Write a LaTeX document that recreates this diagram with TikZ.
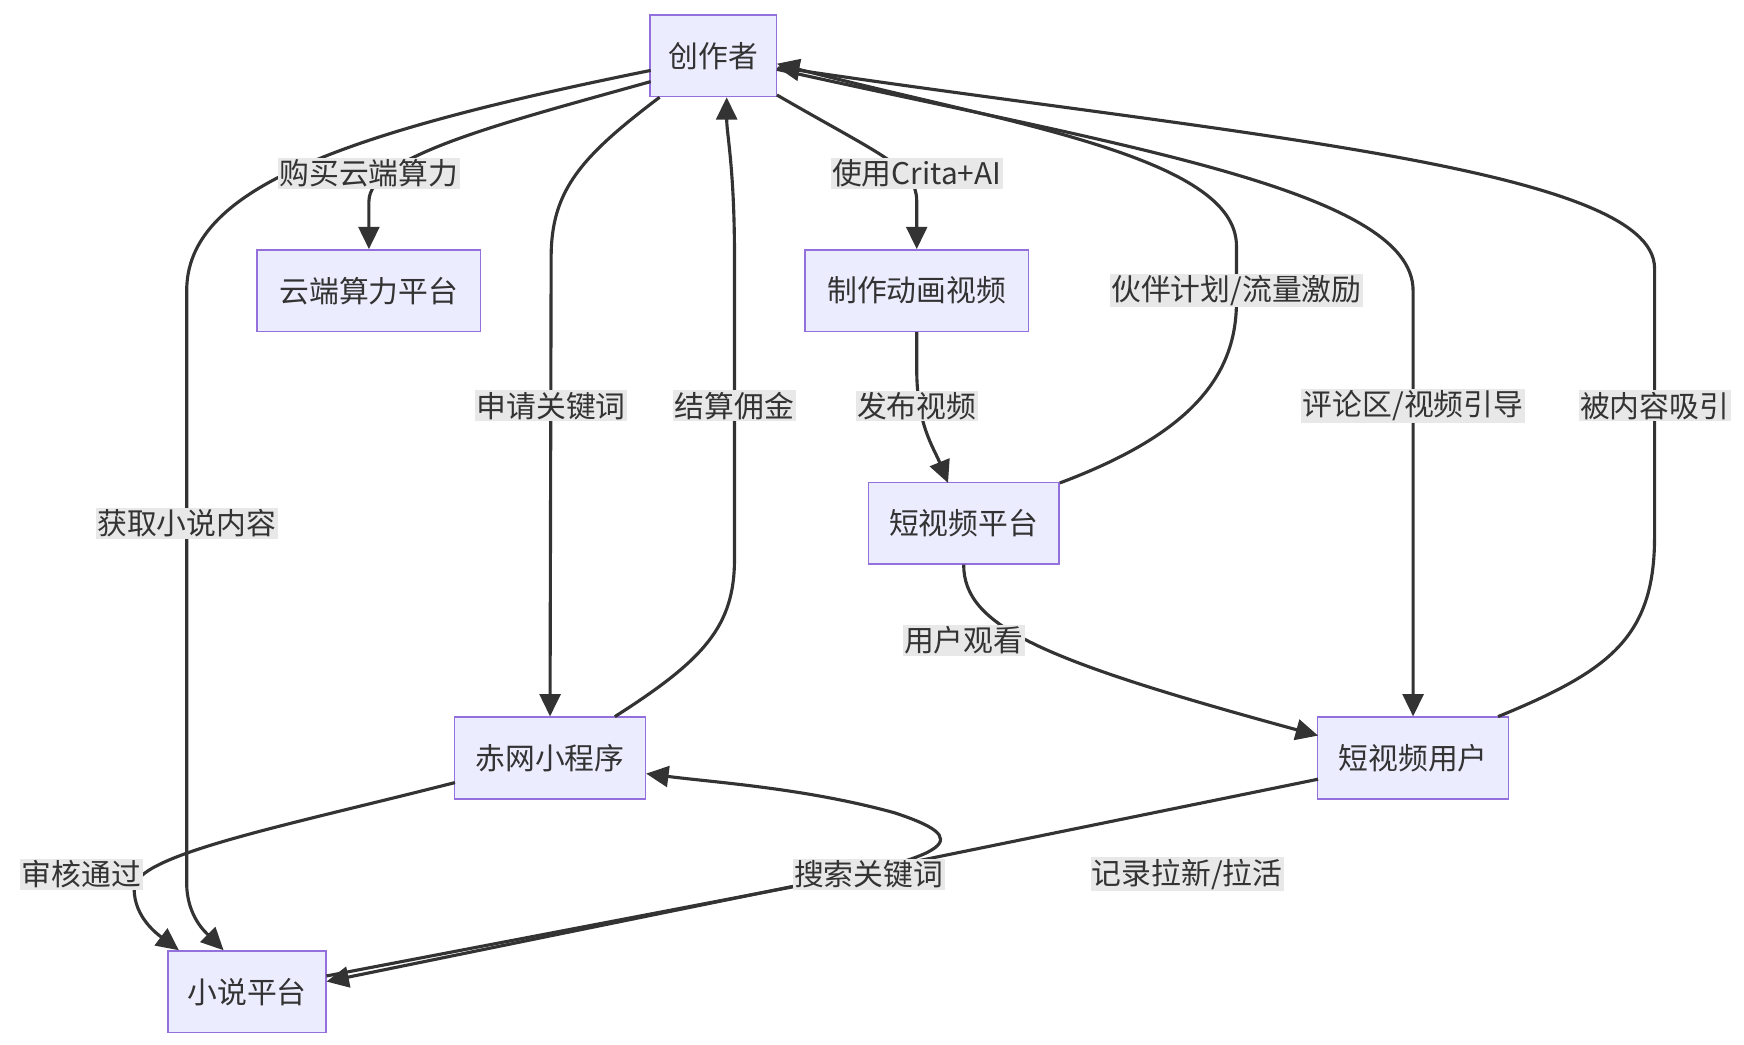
\documentclass[tikz,border=0pt]{standalone}
\usepackage{fontspec}
\setmainfont{Noto Sans CJK SC}
\usetikzlibrary{arrows.meta}
\definecolor{nfill}{HTML}{ECECFF}
\definecolor{nbord}{HTML}{9370DB}
\definecolor{ink}{HTML}{333333}
\definecolor{lbg}{HTML}{E8E8E8}
\begin{document}
\begin{tikzpicture}[x=0.75pt,y=-0.75pt,
  box/.style={draw=nbord,fill=nfill,line width=1pt,minimum height=54.75pt,inner sep=0pt,text=ink,font=\fontsize{20}{20}\selectfont},
  lab/.style={fill=lbg,inner sep=1pt,text=ink,font=\fontsize{20}{20}\selectfont},
  e/.style={draw=ink,line width=2.1pt,-{Triangle[length=15pt,width=14pt]}}]
\useasboundingbox (0,0) rectangle (1560,934);
\node[box,minimum width=84.75pt] (c) at (638,50) {创作者};
\node[box,minimum width=150pt] (cloud) at (330,260) {云端算力平台};
\node[box,minimum width=150pt] (make) at (820,260) {制作动画视频};
\node[box,minimum width=128pt] (svp) at (862,468) {短视频平台};
\node[box,minimum width=128pt] (mini) at (492,678) {赤网小程序};
\node[box,minimum width=128pt] (svu) at (1264,678) {短视频用户};
\node[box,minimum width=106pt] (novel) at (221,887) {小说平台};
% edges
\draw[e] (582,73) .. controls (450,110) and (330,140) .. (330,180) -- (cloud.north);
\draw[e] (582,63) .. controls (300,120) and (167,170) .. (167,260) -- (167,790) .. controls (167,820) and (185,835) .. (200,850);
\draw[e] (590,87) .. controls (520,140) and (493,170) .. (493,230) -- (mini.north);
\draw[e] (550,641) .. controls (630,590) and (657,560) .. (657,500) -- (657,230) .. controls (657,150) and (650,120) .. (650,87);
\draw[e] (695,85) .. controls (790,140) and (820,150) .. (820,180) -- (make.north);
\draw[e] (make.south) -- (820,330) .. controls (820,380) and (835,400) .. (848,432);
\draw[e] (948,432) .. controls (1060,390) and (1106,340) .. (1106,270) -- (1106,220) .. controls (1106,140) and (900,110) .. (695,57);
\draw[e] (695,62) .. controls (1000,130) and (1264,170) .. (1264,260) -- (mini.north -| svu.north);
\draw[e] (1340,641) .. controls (1440,600) and (1480,570) .. (1480,480) -- (1480,240) .. controls (1480,150) and (1100,120) .. (695,60);
\draw[e] (862,505) .. controls (862,560) and (930,590) .. (1179,658);
\draw[e] (407,700) .. controls (250,740) and (120,765) .. (120,795) .. controls (120,820) and (140,835) .. (160,850);
\draw[e] (292,873) -- (700,795) .. controls (860,765) and (870,750) .. (800,727) .. controls (720,705) and (640,700) .. (578,692);
\draw[e] (1179,697) -- (292,878);
% labels
\node[lab] (l1) at (330,155) {购买云端算力};
\node[lab] (l2) at (167,468) {获取小说内容};
\node[lab] (l3) at (493,363) {申请关键词};
\node[lab] (l4) at (657,363) {结算佣金};
\node[lab] (l5) at (820,155) {使用Crita+AI};
\node[lab] (l6) at (820,363) {发布视频};
\node[lab] (l7) at (1106,260) {伙伴计划/流量激励};
\node[lab] (l8) at (1264,363) {评论区/视频引导};
\node[lab] (l9) at (1480,363) {被内容吸引};
\node[lab] (l10) at (862,573) {用户观看};
\node[lab] (l11) at (73,782) {审核通过};
\node[lab] (l12) at (777,782) {搜索关键词};
\node[lab] (l13) at (1062,782) {记录拉新/拉活};
\end{tikzpicture}
\end{document}
